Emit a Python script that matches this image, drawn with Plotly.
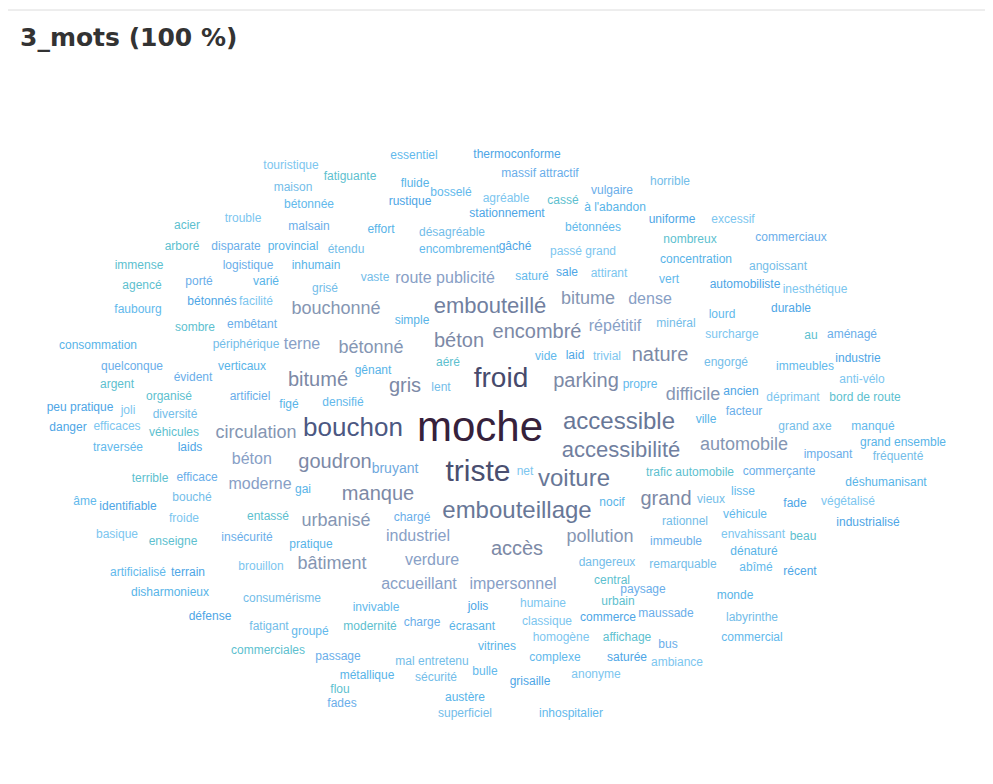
import plotly.graph_objects as go

TITLE = "3_mots (100 %)"

# frequent words (count > 1)
main_words = [
    "moche", "froid", "triste", "bouchon", "accessible", "embouteillage", "voiture",
    "accessibilité", "embouteillé", "encombré", "béton", "bétonné", "parking", "gris",
    "bitumé", "nature", "goudron", "manque", "grand", "route publicité", "automobile",
    "circulation", "bouchonné", "bitume", "dense", "répétitif", "difficile", "terne",
    "moderne", "béton ", "urbanisé", "industriel", "pollution", "accès", "verdure",
    "bâtiment", "accueillant", "impersonnel", "bruyant",
]
main_x = [
    480, 501, 478, 353, 619, 517, 574,
    621, 490, 537, 459, 371, 586, 405,
    318, 660, 335, 378, 666, 445, 744,
    256, 336, 588, 650, 615, 693, 302,
    260, 254, 336, 418, 600, 517, 432,
    332, 419, 513, 395,
]
main_y = [
    430, 380, 473, 429, 423, 512, 480,
    451, 307, 333, 342, 348, 382, 387,
    381, 356, 463, 495, 500, 279, 445,
    433, 309, 299, 300, 327, 395, 345,
    485, 460, 521, 537, 537, 550, 561,
    564, 585, 585, 469,
]
main_counts = [
    16, 9, 10, 8, 7, 7, 7,
    6, 6, 5, 5, 4, 5, 5,
    5, 5, 5, 5, 5, 3, 4,
    4, 4, 4, 3, 3, 4, 3,
    3, 3, 4, 3, 4, 5, 3,
    4, 3, 3, 2,
]

# words cited once
rare_words = [
    "essentiel", "thermoconforme", "touristique", "fatiguante", "massif attractif", "fluide",
    "maison", "bosselé", "rustique", "agréable", "cassé", "vulgaire", "à l'abandon", "horrible",
    "bétonnée", "stationnement", "trouble", "acier", "malsain", "effort", "désagréable",
    "bétonnées", "uniforme", "excessif", "arboré", "disparate", "provincial", "étendu",
    "encombrement", "gâché", "passé grand", "nombreux", "commerciaux", "concentration",
    "angoissant", "vert", "automobiliste", "inesthétique", "immense", "logistique", "inhumain",
    "vaste", "saturé", "sale", "attirant", "agencé", "porté", "varié", "grisé", "faubourg",
    "bétonnés", "facilité", "sombre", "embêtant", "simple", "minéral", "lourd", "durable",
    "surcharge", "au", "aménagé", "consommation", "périphérique", "vide", "laid", "trivial",
    "aéré", "quelconque", "verticaux", "engorgé", "immeubles", "industrie", "anti-vélo",
    "argent", "évident", "gênant", "lent", "propre", "ancien", "déprimant", "bord de route",
    "facteur", "ville", "grand axe", "manqué", "peu pratique", "joli", "organisé",
    "artificiel", "figé", "diversité", "densifié", "danger", "efficaces", "véhicules",
    "imposant", "grand ensemble", "fréquenté", "traversée", "laids", "net",
    "trafic automobile", "commerçante", "déshumanisant", "vieux", "lisse", "fade",
    "végétalisé", "terrible", "efficace", "gai", "bouché", "âme", "identifiable", "froide",
    "entassé", "chargé", "nocif", "rationnel", "véhicule", "industrialisé", "envahissant",
    "beau", "immeuble", "dénaturé", "remarquable", "abîmé", "récent", "basique", "enseigne",
    "insécurité", "pratique", "dangereux", "artificialisé", "terrain", "brouillon", "central",
    "paysage", "disharmonieux", "consumérisme", "invivable", "jolis", "humaine", "urbain",
    "maussade", "monde", "labyrinthe", "commercial", "commerce", "classique", "modernité",
    "charge", "écrasant", "fatigant", "groupé", "défense", "homogène", "affichage", "bus",
    "vitrines", "mal entretenu", "complexe", "saturée", "ambiance", "commerciales", "passage",
    "métallique", "sécurité", "bulle", "grisaille", "anonyme", "flou", "fades", "austère",
    "superficiel", "inhospitalier",
]
rare_x = [
    414, 517, 291, 350, 540, 415,
    293, 451, 410, 506, 563, 612, 615, 670,
    309, 507, 243, 187, 309, 381, 452,
    593, 672, 733, 182, 236, 293, 346,
    459, 515, 583, 690, 791, 696,
    778, 669, 745, 815, 139, 248, 316,
    375, 532, 567, 609, 142, 199, 266, 325, 138,
    212, 256, 195, 252, 412, 676, 722, 791,
    732, 811, 852, 98, 246, 546, 575, 607,
    448, 132, 242, 726, 805, 858, 862,
    117, 193, 373, 441, 640, 741, 793, 865,
    744, 706, 805, 873, 80, 128, 169,
    250, 289, 175, 343, 68, 117, 174,
    828, 903, 898, 118, 190, 525,
    690, 779, 886, 711, 743, 795,
    848, 150, 197, 303, 192, 85, 128, 184,
    268, 412, 612, 685, 745, 868, 753,
    803, 676, 754, 683, 756, 800, 117, 173,
    247, 311, 607, 138, 188, 261, 612,
    643, 170, 282, 376, 478, 543, 618,
    666, 735, 752, 752, 608, 547, 370,
    422, 472, 269, 310, 210, 561, 627, 668,
    497, 432, 555, 627, 677, 268, 338,
    367, 436, 485, 530, 596, 340, 342, 465,
    465, 571,
]
rare_y = [
    156, 155, 166, 177, 174, 184,
    188, 193, 202, 199, 201, 191, 208, 182,
    205, 214, 219, 226, 227, 230, 233,
    228, 220, 220, 247, 247, 247, 250,
    250, 247, 252, 240, 238, 260,
    267, 280, 285, 290, 266, 266, 266,
    278, 277, 273, 274, 286, 282, 282, 289, 310,
    302, 302, 328, 325, 321, 324, 315, 309,
    335, 336, 335, 346, 345, 357, 356, 357,
    363, 367, 367, 363, 367, 359, 380,
    385, 378, 371, 388, 385, 392, 398, 398,
    412, 420, 427, 427, 408, 411, 397,
    397, 405, 415, 403, 428, 427, 433,
    455, 443, 457, 448, 448, 472,
    473, 472, 483, 500, 492, 504,
    502, 479, 478, 490, 498, 502, 507, 519,
    517, 518, 503, 522, 515, 523, 535,
    537, 542, 552, 565, 568, 572, 535, 542,
    538, 545, 563, 573, 573, 567, 581,
    590, 593, 599, 608, 607, 604, 602,
    614, 596, 618, 638, 618, 622, 627,
    623, 627, 627, 632, 617, 638, 638, 645,
    647, 662, 658, 658, 663, 651, 657,
    676, 678, 672, 682, 675, 690, 704, 698,
    714, 714,
]

RARE_PALETTE = ["#62b9ec", "#4ea6e6", "#7cc6ef", "#5dbfcf", "#6aaeea", "#58b4e8", "#73bde9"]
COUNT_COLORS = {
    2: "#6fa9de", 3: "#88a0c6", 4: "#8596b3", 5: "#7c89a6", 6: "#717f9f",
    7: "#687797", 8: "#4c5882", 9: "#474a6c", 10: "#4a4f70",
}

# the page body has an 8px margin, so the figure is 16px smaller than the window
FIG_W, FIG_H, OFFSET = 977, 768, 8


def font_size(count):
    return 10 + 2 * count


def word_color(count):
    return COUNT_COLORS.get(count, "#36213b")


fig = go.Figure()
fig.add_trace(
    go.Scatter(
        x=rare_x,
        y=rare_y,
        mode="text",
        text=rare_words,
        textposition="middle center",
        textfont={
            "family": "Liberation Sans, Arial, sans-serif",
            "size": [font_size(1)] * len(rare_words),
            "color": [RARE_PALETTE[i % len(RARE_PALETTE)] for i in range(len(rare_words))],
        },
        hovertemplate="%{text}<extra></extra>",
        showlegend=False,
    )
)
fig.add_trace(
    go.Scatter(
        x=main_x,
        y=main_y,
        mode="text",
        text=main_words,
        textposition="middle center",
        textfont={
            "family": "Liberation Sans, Arial, sans-serif",
            "size": [font_size(c) for c in main_counts],
            "color": [word_color(c) for c in main_counts],
        },
        customdata=main_counts,
        hovertemplate="%{text}: %{customdata}<extra></extra>",
        showlegend=False,
    )
)

fig.add_shape(type="line", xref="paper", yref="paper", x0=0, x1=1,
              y0=1 - 2 / FIG_H, y1=1 - 2 / FIG_H,
              line={"color": "#dcdcdc", "width": 1})

fig.update_layout(
    width=FIG_W,
    height=FIG_H,
    paper_bgcolor="white",
    plot_bgcolor="white",
    margin={"l": 0, "r": 0, "t": 0, "b": 0},
    title={
        "text": f"<b>{TITLE}</b>",
        "x": 12 / FIG_W,
        "xanchor": "left",
        "y": 1 - 29 / FIG_H,
        "yanchor": "middle",
        "font": {"family": "DejaVu Sans, Verdana, sans-serif", "size": 25, "color": "#333333"},
    },
)
fig.update_xaxes(range=[OFFSET, FIG_W + OFFSET], visible=False, fixedrange=True)
fig.update_yaxes(range=[FIG_H + OFFSET, OFFSET], visible=False, fixedrange=True)

fig.write_html("out.html")
